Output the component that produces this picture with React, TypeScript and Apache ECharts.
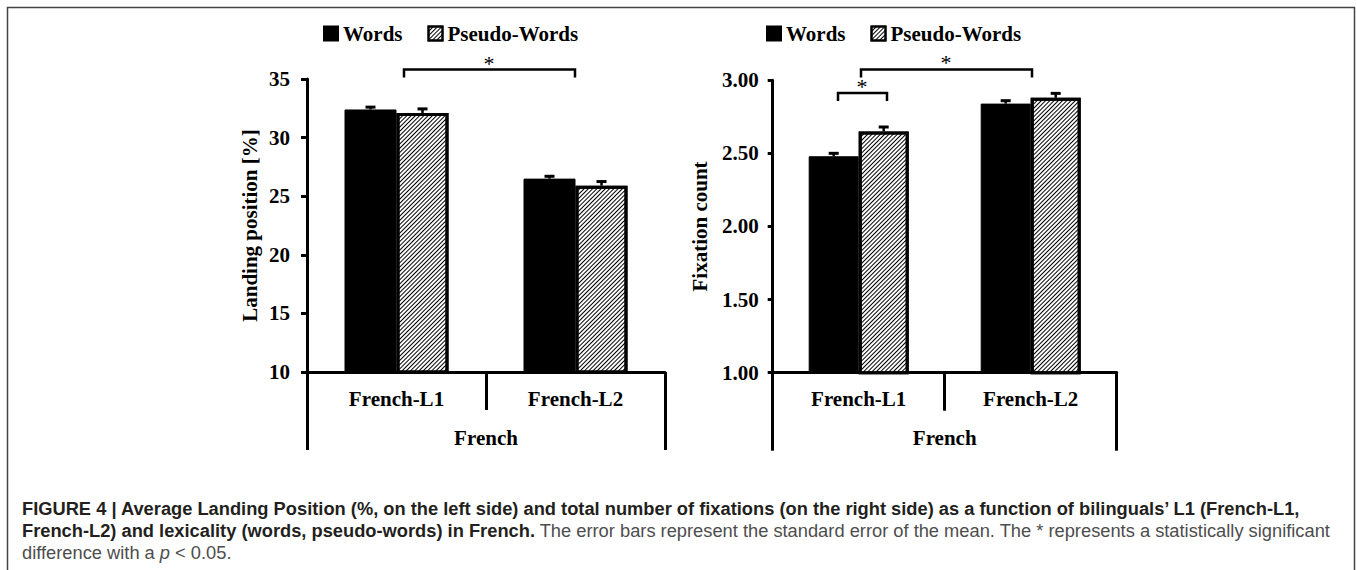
import React, { useEffect, useRef } from "react";
import * as echarts from "echarts";

const categories = ["French-L1", "French-L2"];
const groupLabel = ["French"];
const seriesNames = ["Words", "Pseudo-Words"];

const landingWords = [32.4, 26.5];
const landingWordsErr = [0.2, 0.2];
const landingPseudo = [32.1, 25.9];
const landingPseudoErr = [0.35, 0.35];

const fixWords = [2.48, 2.84];
const fixWordsErr = [0.02, 0.02];
const fixPseudo = [2.65, 2.88];
const fixPseudoErr = [0.03, 0.03];

const SERIF = "'Liberation Serif', 'Times New Roman', serif";
const SANS = "'Liberation Sans', Arial, Helvetica, sans-serif";
const CAP = 18.3;

const hatch = {
  symbol: "rect",
  symbolSize: 1,
  color: "#000",
  backgroundColor: "#fff",
  dashArrayX: [1, 0],
  dashArrayY: [0.9, 1.3],
  rotation: -Math.PI / 4,
};

function errSeries(name: string, vals: number[], errs: number[], axis: number, offset: number) {
  return {
    type: "custom",
    name: name + "-err",
    xAxisIndex: axis * 2,
    yAxisIndex: axis,
    z: 5,
    silent: true,
    data: vals.map((v, i) => [i, v, v + errs[i]]),
    renderItem: (params: any, api: any) => {
      const i = api.value(0);
      const p0 = api.coord([i, api.value(1)]);
      const p1 = api.coord([i, api.value(2)]);
      const x = p0[0] + offset;
      return {
        type: "group",
        children: [
          { type: "line", shape: { x1: x, y1: p0[1], x2: x, y2: p1[1] }, style: { stroke: "#000", lineWidth: 2.5 } },
          { type: "line", shape: { x1: x - 5, y1: p1[1], x2: x + 5, y2: p1[1] }, style: { stroke: "#000", lineWidth: 3 } },
        ],
      };
    },
  };
}

function bracket(x1: number, x2: number, y: number, drop: number, sx: number, sy: number) {
  return [
    {
      type: "polyline",
      shape: { points: [[x1, y + drop], [x1, y], [x2, y], [x2, y + drop]] },
      style: { stroke: "#000", lineWidth: 2.5, fill: null },
    },
    {
      type: "text",
      x: sx,
      y: sy,
      style: { text: "*", font: `22px ${SERIF}`, fill: "#000", align: "center", verticalAlign: "middle" },
    },
  ];
}

export default function App() {
  const ref = useRef<HTMLDivElement>(null);
  useEffect(() => {
    const chart = echarts.init(ref.current!, null, { renderer: "svg" });
    const axisLine = { show: true, lineStyle: { color: "#000", width: 3 } };
    const labelStyle = { color: "#000", fontFamily: SERIF, fontWeight: "bold" as const, fontSize: 21 };
    const mkX = (grid: number) => [
      {
        type: "category",
        gridIndex: grid,
        data: categories,
        axisLine,
        axisTick: { show: true, length: 38, interval: 0, lineStyle: { color: "#000", width: 3 } },
        axisLabel: { ...labelStyle, margin: 16, interval: 0 },
      },
      {
        type: "category",
        gridIndex: grid,
        position: "bottom",
        data: groupLabel,
        axisLine: { show: false },
        axisTick: { show: true, length: 78, lineStyle: { color: "#000", width: 3 } },
        axisLabel: { ...labelStyle, margin: 55 },
      },
    ];
    const legend = (left: number) => ({
      left,
      top: 18,
      data: seriesNames,
      itemWidth: 14,
      itemHeight: 14,
      itemGap: 25,
      icon: "rect",
      textStyle: { ...labelStyle, fontSize: 21 },
    });
    chart.setOption({
      animation: false,
      backgroundColor: "#fff",
      legend: [legend(318), legend(761)],
      grid: [
        { left: 307, top: 79, width: 358, height: 293, containLabel: false },
        { left: 772.7, top: 80.2, width: 344, height: 292.5, containLabel: false },
      ],
      xAxis: [...mkX(0), ...mkX(1)],
      yAxis: [
        {
          type: "value",
          gridIndex: 0,
          min: 10,
          max: 35,
          interval: 5,
          name: "Landing position [%]",
          nameLocation: "middle",
          nameGap: 47,
          nameTextStyle: { ...labelStyle },
          axisLine,
          axisTick: { show: true, length: 6, lineStyle: { color: "#000", width: 3 } },
          axisLabel: { ...labelStyle, margin: 17 },
          splitLine: { show: false },
        },
        {
          type: "value",
          gridIndex: 1,
          min: 1,
          max: 3,
          interval: 0.5,
          name: "Fixation count",
          nameLocation: "middle",
          nameGap: 62,
          nameTextStyle: { ...labelStyle },
          axisLine,
          axisTick: { show: true, length: 5, lineStyle: { color: "#000", width: 3 } },
          axisLabel: { ...labelStyle, margin: 14, formatter: (v: number) => v.toFixed(2) },
          splitLine: { show: false },
        },
      ],
      series: [
        {
          type: "bar",
          name: "Words",
          xAxisIndex: 0,
          yAxisIndex: 0,
          barWidth: 52,
          barGap: "0%",
          data: landingWords,
          itemStyle: { color: "#000", borderColor: "#000", borderWidth: 1 },
        },
        {
          type: "bar",
          name: "Pseudo-Words",
          xAxisIndex: 0,
          yAxisIndex: 0,
          barWidth: 52,
          barGap: "0%",
          data: landingPseudo,
          itemStyle: { color: "#fff", borderColor: "#000", borderWidth: 3, decal: hatch },
        },
        {
          type: "bar",
          name: "Words",
          xAxisIndex: 2,
          yAxisIndex: 1,
          barWidth: 50,
          barGap: "0%",
          data: fixWords,
          itemStyle: { color: "#000", borderColor: "#000", borderWidth: 1 },
        },
        {
          type: "bar",
          name: "Pseudo-Words",
          xAxisIndex: 2,
          yAxisIndex: 1,
          barWidth: 50,
          barGap: "0%",
          data: fixPseudo,
          itemStyle: { color: "#fff", borderColor: "#000", borderWidth: 3, decal: hatch },
        },
        errSeries("Words", landingWords, landingWordsErr, 0, -26),
        errSeries("Pseudo-Words", landingPseudo, landingPseudoErr, 0, 26),
        errSeries("Words", fixWords, fixWordsErr, 1, -25),
        errSeries("Pseudo-Words", fixPseudo, fixPseudoErr, 1, 25),
      ],
      graphic: [
        {
          type: "rect",
          shape: { x: 7.5, y: 7.5, width: 1347, height: 620 },
          style: { fill: null, stroke: "#444", lineWidth: 1.5 },
          silent: true,
        },
        ...bracket(404, 575, 69.5, 8, 489, 63),
        ...bracket(861, 1032, 69.5, 8, 946, 62),
        ...bracket(838, 887, 93, 8, 862, 86),
        {
          type: "text",
          x: 22,
          y: 508,
          style: {
            text: "FIGURE 4 | Average Landing Position (%, on the left side) and total number of fixations (on the right side) as a function of bilinguals’ L1 (French-L1,",
            font: `bold ${CAP}px ${SANS}`,
            fill: "#231f20",
            verticalAlign: "middle",
          },
        },
        {
          type: "text",
          x: 22,
          y: 530,
          style: {
            text: "{b|French-L2) and lexicality (words, pseudo-words) in French.}{r| The error bars represent the standard error of the mean. The * represents a statistically significant}",
            verticalAlign: "middle",
            rich: {
              b: { font: `bold ${CAP}px ${SANS}`, fill: "#231f20" },
              r: { font: `${CAP}px ${SANS}`, fill: "#4d4d4d" },
            },
          },
        },
        {
          type: "text",
          x: 22,
          y: 552,
          style: {
            text: "{r|difference with a }{i|p}{r| < 0.05.}",
            verticalAlign: "middle",
            rich: {
              r: { font: `${CAP}px ${SANS}`, fill: "#4d4d4d" },
              i: { font: `italic ${CAP}px ${SANS}`, fill: "#4d4d4d" },
            },
          },
        },
      ],
    });
    return () => chart.dispose();
  }, []);
  return (
    <div
      ref={ref}
      style={{ position: "fixed", left: 0, top: 0, width: 1357, height: 570, background: "#fff" }}
    />
  );
}
